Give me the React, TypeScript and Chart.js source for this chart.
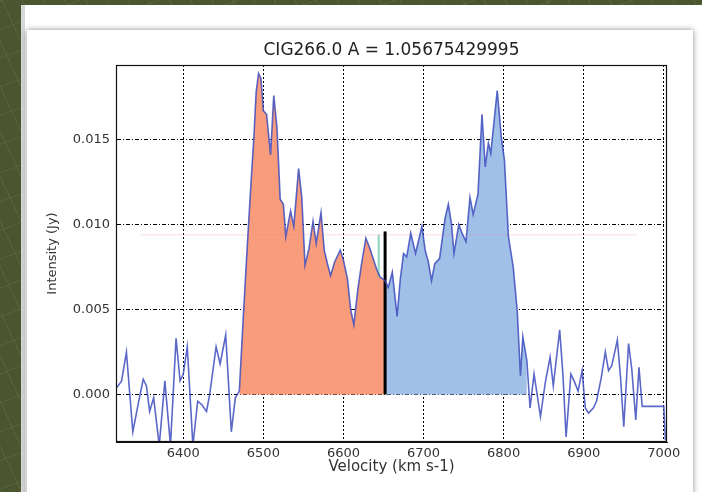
import React, { useEffect, useRef } from "react";
import { Chart, registerables } from "chart.js";

Chart.register(...registerables);

const chartTitle = "CIG266.0 A = 1.05675429995";
const xTitle = "Velocity (km s-1)";
const yTitle = "Intensity (Jy)";

const velocities = [
  6317, 6323, 6329, 6337, 6344, 6350, 6354, 6358, 6363, 6370,
  6377, 6384, 6391, 6396, 6400, 6405, 6412, 6418, 6423, 6429,
  6433, 6441, 6446, 6453, 6460, 6465, 6470, 6475, 6480, 6484,
  6488, 6491, 6494, 6497, 6500, 6504, 6509, 6513, 6517, 6521,
  6525, 6528, 6534, 6538, 6544, 6548, 6552, 6557, 6562, 6566,
  6572, 6576, 6580, 6584, 6589, 6596, 6600, 6605, 6609, 6613,
  6618, 6623, 6628, 6633, 6637, 6642, 6646, 6652, 6656, 6661,
  6667, 6671, 6675, 6679, 6684, 6690, 6695, 6698, 6702, 6706,
  6710, 6714, 6720, 6727, 6731, 6735, 6738, 6744, 6748, 6753,
  6758, 6762, 6768, 6773, 6777, 6781, 6784, 6792, 6797, 6801,
  6806, 6812, 6817, 6821, 6824, 6829, 6833, 6838, 6846, 6852,
  6858, 6862, 6870, 6874, 6878, 6884, 6888, 6893, 6898, 6902,
  6906, 6912, 6916, 6922, 6927, 6931, 6935, 6942, 6946, 6950,
  6956, 6960, 6965, 6969, 6973, 7000, 7002,
];

const intensity = [
  0.0004, 0.0008, 0.0025, -0.0022, -0.0005, 0.0009, 0.0005, -0.001, -0.0002, -0.003,
  0.0008, -0.003, 0.0033, 0.0008, 0.0012, 0.0028, -0.003, -0.0004, -0.0006, -0.001,
  0.0, 0.0028, 0.0018, 0.0035, -0.0022, -0.0002, 0.0002, 0.0046, 0.0088, 0.012,
  0.015, 0.0178, 0.0189, 0.0186, 0.0167, 0.0165, 0.0141, 0.0176, 0.0157, 0.0115,
  0.0112, 0.0093, 0.0108, 0.0099, 0.0133, 0.0116, 0.0076, 0.0086, 0.0102, 0.0089,
  0.0107, 0.0085, 0.0077, 0.007, 0.0078, 0.0085, 0.0079, 0.0068, 0.005, 0.0041,
  0.0062, 0.0078, 0.0092, 0.0086, 0.008, 0.0073, 0.0069, 0.0067, 0.0063, 0.0072,
  0.0046, 0.0068, 0.0083, 0.0081, 0.0095, 0.0083, 0.0093, 0.0099, 0.0085, 0.0078,
  0.0067, 0.0077, 0.008, 0.0104, 0.0112, 0.01, 0.0083, 0.01, 0.0095, 0.009,
  0.0116, 0.0106, 0.0118, 0.0165, 0.0134, 0.0148, 0.0142, 0.0179, 0.0152, 0.0138,
  0.0093, 0.0075, 0.0049, 0.0011, 0.0034, 0.002, -0.0008, 0.0012, -0.0013, 0.0007,
  0.0022, 0.0005, 0.0038, 0.0012, -0.0025, 0.0012, 0.0008, 0.0002, 0.0014, -0.0008,
  -0.0011, -0.0008, -0.0004, 0.001, 0.0025, 0.0014, 0.0017, 0.0032, 0.001, -0.0019,
  0.003, 0.0015, -0.0015, 0.0016, -0.0007, -0.0007, -0.0027,
];

const xTickValues = [6400, 6500, 6600, 6700, 6800, 6900, 7000];
const yTickValues = [0.0, 0.005, 0.01, 0.015];
const xMin = 6316;
const xMax = 7004;
const yMin = -0.0028;
const yMax = 0.0194;

const orangeRange = [6470, 6652];
const blueRange = [6652, 6829];
const splitVelocity = 6652;
const splitLevels = [0, 0.0096];
const cyanVelocity = 6644;
const cyanLevels = [0.0069, 0.0094];
const refLevel = 0.0094;
const refRange = [6346, 6967];

const FONT = "'DejaVu Sans', sans-serif";

const pts = (lo: number, hi: number) =>
  velocities
    .map((v, i) => ({ x: v, y: intensity[i] }))
    .filter((p) => p.x >= lo && p.x <= hi);

const framePlugin = {
  id: "frameBox",
  afterDraw(chart: any) {
    const { ctx, chartArea: a } = chart;
    ctx.save();
    ctx.strokeStyle = "#111";
    ctx.lineWidth = 1.2;
    ctx.strokeRect(a.left + 0.5, a.top + 0.5, a.right - a.left - 1, a.bottom - a.top - 1);
    ctx.fillStyle = "#222";
    ctx.font = `17px ${FONT}`;
    ctx.textAlign = "center";
    ctx.textBaseline = "middle";
    ctx.fillText(chartTitle, (a.left + a.right) / 2, a.top - 14);
    ctx.restore();
  },
};

export default function App() {
  const ref = useRef<HTMLCanvasElement | null>(null);

  useEffect(() => {
    if (!ref.current) return;
    const chart = new Chart(ref.current, {
      type: "line",
      data: {
        datasets: [
          {
            label: "spectrum",
            data: velocities.map((v, i) => ({ x: v, y: intensity[i] })),
            borderColor: "rgba(62,78,190,0.85)",
            borderWidth: 1.6,
            pointRadius: 0,
            tension: 0,
            fill: false,
          },
          {
            label: "split",
            data: splitLevels.map((y) => ({ x: splitVelocity, y })),
            borderColor: "#000",
            borderWidth: 3,
            pointRadius: 0,
            fill: false,
          },
          {
            label: "cyan",
            data: cyanLevels.map((y) => ({ x: cyanVelocity, y })),
            borderColor: "rgba(90,195,165,0.7)",
            borderWidth: 2,
            pointRadius: 0,
            fill: false,
          },
          {
            label: "ref",
            data: refRange.map((x) => ({ x, y: refLevel })),
            borderColor: "rgba(240,130,130,0.25)",
            borderWidth: 1,
            pointRadius: 0,
            fill: false,
          },
          {
            label: "approaching",
            data: pts(orangeRange[0], orangeRange[1]),
            borderColor: "rgba(0,0,0,0)",
            borderWidth: 0,
            backgroundColor: "#F99C7B",
            pointRadius: 0,
            fill: "origin",
          },
          {
            label: "receding",
            data: pts(blueRange[0], blueRange[1]),
            borderColor: "rgba(0,0,0,0)",
            borderWidth: 0,
            backgroundColor: "#A0C0E8",
            pointRadius: 0,
            fill: "origin",
          },
        ],
      },
      options: {
        animation: false,
        responsive: false,
        layout: { padding: { left: 0, right: 35, top: 65, bottom: 0 } },
        plugins: {
          legend: { display: false },
          tooltip: { enabled: false },
          title: { display: false },
        },
        scales: {
          x: {
            type: "linear",
            min: xMin,
            max: xMax,
            afterFit: (s: any) => {
              s.height = 50;
            },
            afterBuildTicks: (s: any) => {
              s.ticks = xTickValues.map((value) => ({ value }));
            },
            ticks: {
              color: "#333",
              font: { family: FONT, size: 13 },
              padding: 4,
              maxRotation: 0,
              callback: (v: any) => String(v),
            },
            grid: { color: "#000", lineWidth: 1, drawTicks: false },
            border: { display: true, color: "#111", width: 1, dash: [2, 2] },
            title: {
              display: true,
              text: xTitle,
              color: "#333",
              font: { family: FONT, size: 15 },
              padding: { top: 0, bottom: 16 },
            },
          },
          y: {
            type: "linear",
            min: yMin,
            max: yMax,
            afterFit: (s: any) => {
              s.width = 116;
            },
            afterBuildTicks: (s: any) => {
              s.ticks = yTickValues.map((value) => ({ value }));
            },
            ticks: {
              color: "#333",
              font: { family: FONT, size: 13 },
              padding: 6,
              callback: (v: any) => Number(v).toFixed(3),
            },
            grid: { color: "#000", lineWidth: 1, drawTicks: false },
            border: { display: true, color: "#111", width: 1, dash: [4, 2, 1, 2] },
            title: {
              display: true,
              text: yTitle,
              color: "#333",
              font: { family: FONT, size: 13 },
              padding: { top: 45, bottom: 0 },
            },
          },
        },
      },
      plugins: [framePlugin],
    });
    return () => chart.destroy();
  }, []);

  return (
    <div
      style={{
        position: "fixed",
        left: 0,
        top: 0,
        width: 702,
        height: 492,
        overflow: "hidden",
        background: "#4b5630",
        backgroundImage:
          "repeating-linear-gradient(65deg, rgba(255,255,255,0.07) 0 1px, transparent 1px 19px), repeating-linear-gradient(160deg, rgba(255,255,255,0.06) 0 1px, transparent 1px 27px)",
      }}
    >
      <div
        style={{
          position: "absolute",
          left: 21,
          top: 5,
          right: 0,
          bottom: 0,
          background: "#fff",
          borderLeft: "4px solid #d8d8d8",
        }}
      />
      <div
        style={{
          position: "absolute",
          left: 27,
          top: 30,
          width: 666,
          height: 480,
          background: "#fff",
          boxShadow: "0 0 6px rgba(0,0,0,0.45)",
        }}
      />
      <canvas
        ref={ref}
        width={702}
        height={492}
        style={{ position: "absolute", left: 0, top: 0, width: 702, height: 492 }}
      />
    </div>
  );
}
